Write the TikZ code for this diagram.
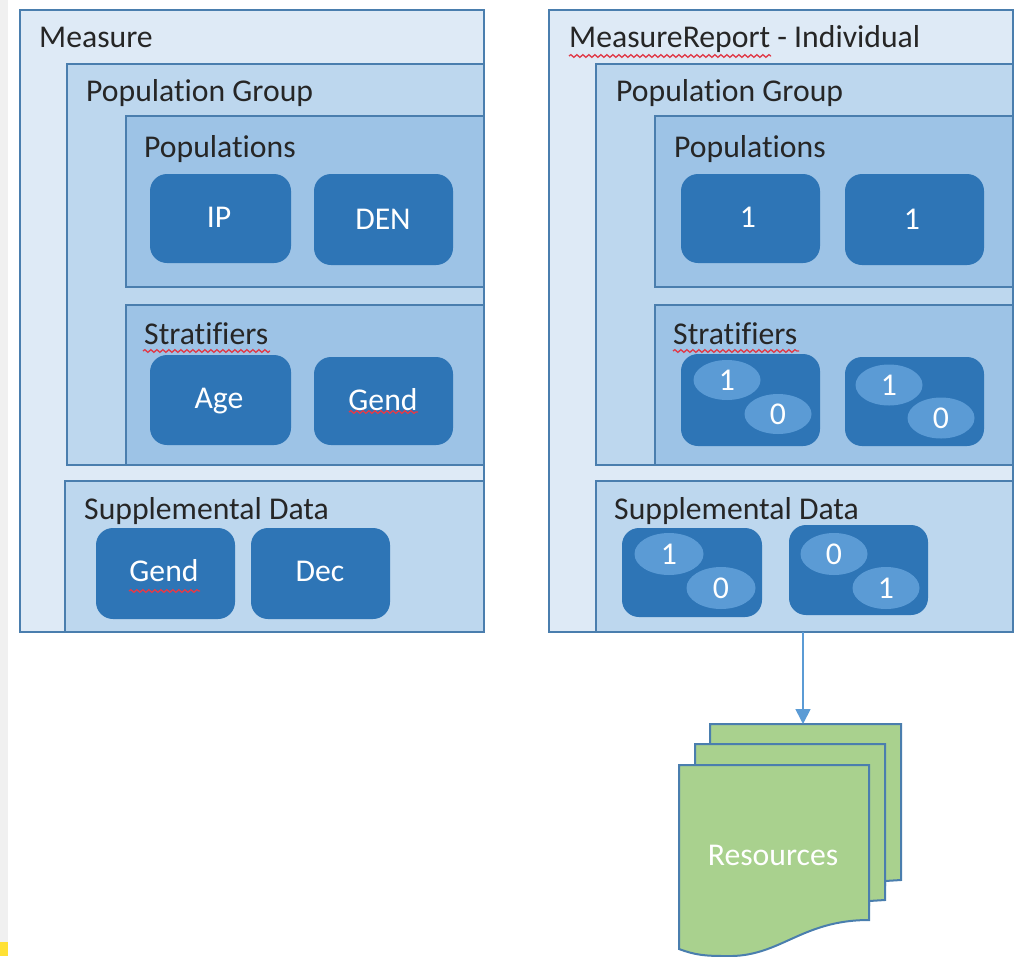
\documentclass[tikz,border=0pt]{standalone}
\usepackage{fontspec}
\setmainfont[Ligatures=NoCommon]{Carlito}
\usetikzlibrary{decorations.pathmorphing,arrows.meta,shapes.geometric}
\definecolor{lineblue}{HTML}{4A7EAE}
\definecolor{fillA}{HTML}{DEEAF6}
\definecolor{fillB}{HTML}{BDD7EE}
\definecolor{fillC}{HTML}{9DC3E6}
\definecolor{fillD}{HTML}{2E75B6}
\definecolor{fillE}{HTML}{5B9BD5}
\definecolor{fillG}{HTML}{A9D18E}
\definecolor{waveRed}{HTML}{E03C4A}
\definecolor{stripY}{HTML}{FFE135}
\definecolor{stripG}{HTML}{F0F0F0}
\newcommand{\bx}[6]{\node[#1,anchor=north west,minimum width=#5pt-#3pt,minimum height=#6pt-#4pt] (#2) at (#3,#4) {};}
\newcommand{\el}[6]{\node[oval,minimum width=#3pt,minimum height=#4pt] (#1) at (#5,#6) {};\node[num] (#1t) at (#5,#6) {#2};}
\tikzset{
  x=1pt,y=-1pt,
  framebox/.style={draw=lineblue,line width=2pt,inner sep=0pt,outer sep=0pt},
  boxA/.style={framebox,fill=fillA},
  boxB/.style={framebox,fill=fillB},
  boxC/.style={framebox,fill=fillC},
  pill/.style={fill=fillD,rounded corners=17pt,inner sep=0pt,outer sep=0pt},
  oval/.style={ellipse,fill=fillE,inner sep=0pt,outer sep=0pt},
  head/.style={anchor=base west,inner sep=0pt,font=\fontsize{31.7}{32}\selectfont,text=black!85},
  inner/.style={anchor=base,inner sep=0pt,font=\fontsize{31.7}{32}\selectfont,text=white},
  num/.style={inner sep=0pt,font=\fontsize{31.7}{32}\selectfont,text=white},
  squiggle/.style={draw=waveRed,line width=1.3pt,decorate,decoration={snake,amplitude=1.4pt,segment length=6pt}},
  docshape/.style={draw=lineblue,line width=2pt,fill=fillG},
  link/.style={draw=fillE,line width=1.7pt,-{Triangle[length=15pt,width=15pt]}}
}
\begin{document}
\begin{tikzpicture}
\useasboundingbox (0,0) rectangle (1025,956);
\fill[stripG] (0,0) rectangle (8,956);
\fill[stripY] (0,942) rectangle (8,956);
% left
\bx{boxA}{measure}{20}{10}{484}{632}
\bx{boxB}{pgL}{67}{64}{484}{465}
\bx{boxC}{popL}{126}{116}{484}{287}
\bx{boxC}{strL}{126}{305}{484}{465}
\bx{boxB}{supL}{65}{481}{484}{632}
\node[head] (tMeasure) at (39,47) {Measure};
\node[head] (tPgL) at (86,101) {Population Group};
\node[head] (tPopL) at (144,157) {Populations};
\node[head] (tStrL) at (144,344) {Stratifiers};
\node[head] (tSupL) at (84,519) {Supplemental Data};
\bx{pill}{ip}{150}{174}{291}{263}
\bx{pill}{den}{314}{174}{453}{265}
\bx{pill}{age}{150}{355}{291}{445}
\bx{pill}{gendA}{314}{357}{453}{445}
\bx{pill}{gendB}{96}{528}{235}{619}
\bx{pill}{dec}{251}{528}{390}{619}
\node[inner] (tIp) at (219,227) {IP};
\node[inner] (tDen) at (383,229) {DEN};
\node[inner] (tAge) at (219,408) {Age};
\node[inner] (tGendA) at (383,410) {Gend};
\node[inner] (tGendB) at (164,581) {Gend};
\node[inner] (tDec) at (320,581) {Dec};
% right
\bx{boxA}{report}{549}{10}{1013}{632}
\bx{boxB}{pgR}{596}{64}{1013}{465}
\bx{boxC}{popR}{655}{116}{1013}{287}
\bx{boxC}{strR}{655}{305}{1013}{465}
\bx{boxB}{supR}{596}{481}{1013}{632}
\node[head] (tReport) at (569,47) {MeasureReport - Individual};
\node[head] (tPgR) at (616,101) {Population Group};
\node[head] (tPopR) at (674,157) {Populations};
\node[head] (tStrR) at (673,344) {Stratifiers};
\node[head] (tSupR) at (614,519) {Supplemental Data};
\bx{pill}{oneA}{681}{174}{820}{263}
\bx{pill}{oneB}{845}{174}{984}{265}
\bx{pill}{sa}{681}{354}{820}{446}
\bx{pill}{sb}{845}{357}{984}{446}
\bx{pill}{da}{622}{528}{762}{617}
\bx{pill}{db}{789}{525}{928}{615}
\node[inner] (tOneA) at (748,227) {1};
\node[inner] (tOneB) at (912,229) {1};
\el{sa1}{1}{67}{40}{727}{380}
\el{sa0}{0}{67}{40}{778}{414}
\el{sb1}{1}{67}{41}{889}{385}
\el{sb0}{0}{67}{41}{941}{418}
\el{da1}{1}{69}{42}{669}{554}
\el{da0}{0}{69}{42}{721}{588}
\el{db0}{0}{67}{42}{834}{554}
\el{db1}{1}{67}{42}{886}{588}
% spell-check underlines
\draw[squiggle] (569,56) -- (771,56);
\draw[squiggle] (143,351) -- (270,351);
\draw[squiggle] (673,351) -- (799,351);
\draw[squiggle] (349,412) -- (418,412);
\draw[squiggle] (129,591) -- (200,591);
% resources
\coordinate (docTop) at (803,724);
\draw[docshape] (710,724) -- (901,724) -- (901,880) -- (885,881) -- (885,885) -- (710,885) -- cycle;
\draw[docshape] (695,744) -- (885,744) -- (885,900) -- (869,901) -- (869,905) -- (695,905) -- cycle;
\draw[docshape] (679,765) -- (869,765) -- (869,920) .. controls (800,920) and (780,958) .. (725,956) .. controls (705,956) and (695,955) .. (679,949) -- cycle;
\node[anchor=base,inner sep=0pt,font=\fontsize{31.7}{32}\selectfont,text=white] (tRes) at (773,865) {Resources};
\draw[link] (report.south -| docTop) -- (docTop);
\end{tikzpicture}
\end{document}
